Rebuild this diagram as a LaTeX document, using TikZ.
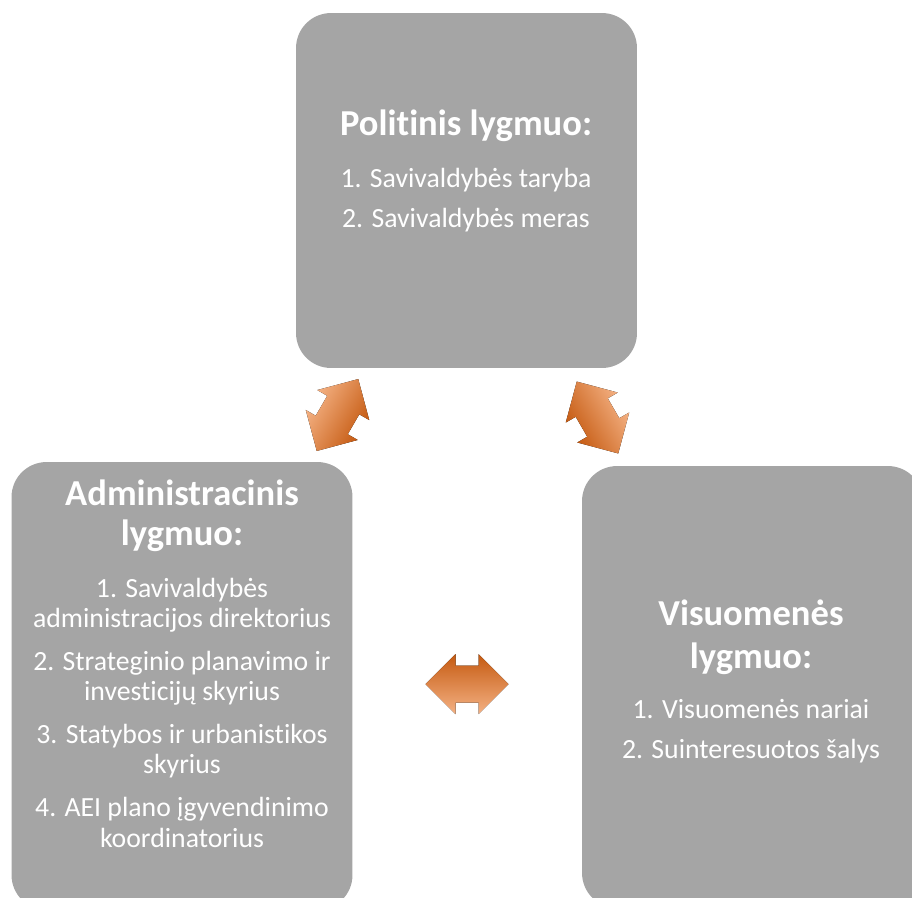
\documentclass[tikz,border=0pt]{standalone}
\usepackage{fontspec}
\setmainfont{Carlito}[Ligatures=NoCommon]
\usetikzlibrary{positioning}
\definecolor{lvlgray}{HTML}{A5A5A5}
\definecolor{arrlight}{HTML}{F4B183}
\definecolor{arrmid}{HTML}{ED7D31}
\definecolor{arrdark}{HTML}{C55A11}
\newcommand{\lvltitle}{\fontsize{20.8pt}{24pt}\selectfont\bfseries}

\begin{document}
\begin{tikzpicture}[x=0.02cm,y=-0.02cm]

\tikzstyle{lvlbox}=[rectangle,fill=lvlgray,rounded corners=0.7cm,minimum width=6.82cm,inner sep=0pt];
\tikzstyle{lvltext}=[text=white,align=center,anchor=base,inner sep=0pt,font=\fontsize{15.8pt}{17.35pt}\selectfont];
\tikzstyle{twoway}=[top color=arrlight,middle color=arrmid,bottom color=arrdark];

\fill[white] (0,0) rectangle (912,897);
\useasboundingbox (0,0) rectangle (912,897);
\clip (0,0) rectangle (912,897);

% the three levels
\node(polBox) [lvlbox,minimum height=7.1cm] at (466.5,190.5) {};
\node(admBox) [lvlbox,minimum height=8.96cm] at (182,686) {};
\node(visBox) [lvlbox,minimum height=8.84cm] at (752.5,687) {};

% texts, placed at the base line of their last line
\node(polTxt) [lvltext] at (466,227) {{\lvltitle Politinis lygmuo:}\\[0.43cm]
  1. Savivaldybės taryba\\[0.19cm] 2. Savivaldybės meras};
\node(admTxt) [lvltext] at (182,847) {{\lvltitle Administracinis}\\[0.19cm]{\lvltitle lygmuo:}\\[0.43cm]
  1. Savivaldybės\\ administracijos direktorius\\[0.244cm]
  2. Strateginio planavimo ir\\ investicijų skyrius\\[0.244cm]
  3. Statybos ir urbanistikos\\ skyrius\\[0.244cm]
  4. AEI plano įgyvendinimo\\ koordinatorius};
\node(visTxt) [lvltext] at (751,758) {{\lvltitle Visuomenės}\\[0.25cm]{\lvltitle lygmuo:}\\[0.39cm]
  1. Visuomenės nariai\\[0.19cm] 2. Suinteresuotos šalys};

% two-way arrows (light side: outer left, outer right, bottom)
\foreach \ax/\ay/\arot/\ashade in {337.5/415/60/0, 597.5/417.5/120/180, 467/684/0/180}
  \fill[twoway,shading angle=\ashade,transform canvas={shift={(\ax,\ay)},rotate=\arot}]
    (-41.5,0) -- (-11.5,30) -- (-11.5,18.5) -- (11.5,18.5) -- (11.5,30) -- (41.5,0)
    -- (11.5,-30) -- (11.5,-18.5) -- (-11.5,-18.5) -- (-11.5,-30) -- cycle;

\end{tikzpicture}
\end{document}
